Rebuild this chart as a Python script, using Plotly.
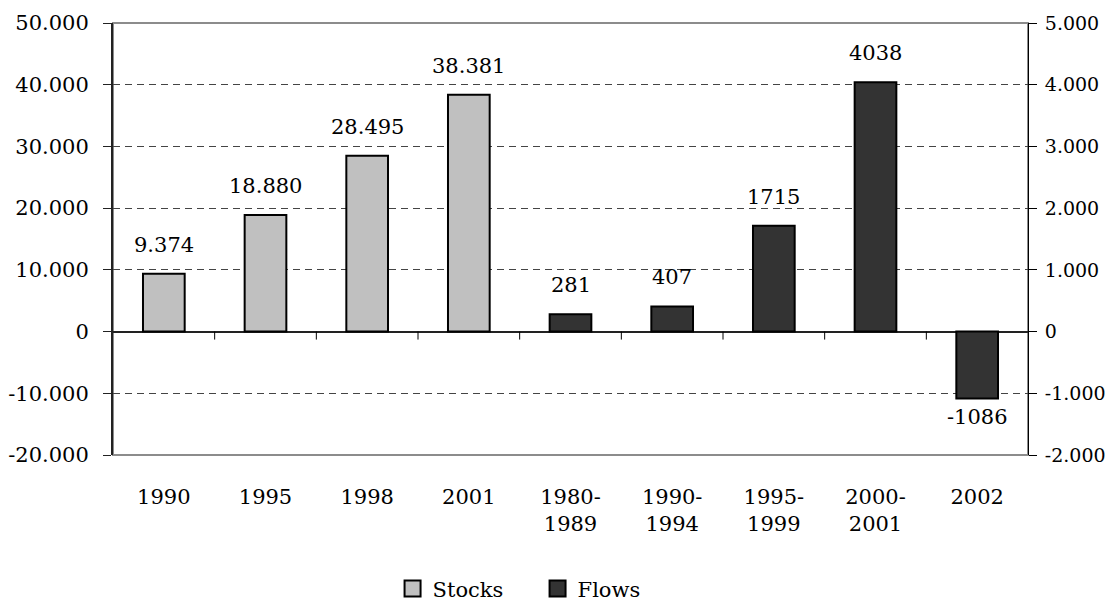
import plotly.graph_objects as go

categories = ["1990", "1995", "1998", "2001", "1980-<br>1989", "1990-<br>1994",
              "1995-<br>1999", "2000-<br>2001", "2002"]
stock_cats = ["1990", "1995", "1998", "2001"]
stock_values = [9374, 18880, 28495, 38381]
flow_cats = ["1980-<br>1989", "1990-<br>1994", "1995-<br>1999", "2000-<br>2001", "2002"]
flow_values = [281, 407, 1715, 4038, -1086]

left_ticks = [-20000, -10000, 0, 10000, 20000, 30000, 40000, 50000]
right_ticks = [-2000, -1000, 0, 1000, 2000, 3000, 4000, 5000]


def dotfmt(v):
    return f"{v:,}".replace(",", ".")


FONT = "DejaVu Serif"
FS = 21
STOCK_COLOR = "#C0C0C0"
FLOW_COLOR = "#333333"

fig = go.Figure()
fig.add_trace(go.Bar(
    x=stock_cats, y=stock_values, name="Stocks", yaxis="y", showlegend=False,
    marker=dict(color=STOCK_COLOR, line=dict(color="black", width=2)),
    width=0.41, hoverinfo="skip",
))
fig.add_trace(go.Bar(
    x=flow_cats, y=flow_values, name="Flows", yaxis="y2", showlegend=False,
    marker=dict(color=FLOW_COLOR, line=dict(color="black", width=2)),
    width=0.41, hoverinfo="skip",
))
# legend entries (square swatches like the reference)
for nm, col in [("Stocks", STOCK_COLOR), ("Flows", FLOW_COLOR)]:
    fig.add_trace(go.Scatter(
        x=[None], y=[None], mode="markers", name=nm, showlegend=True,
        marker=dict(symbol="square", size=16, color=col, line=dict(color="black", width=2)),
        hoverinfo="skip",
    ))

annotations = []
for c, v in zip(stock_cats, stock_values):
    annotations.append(dict(x=categories.index(c), y=v, xref="x", yref="y", text=dotfmt(v),
                            showarrow=False, yanchor="middle",
                            yshift=29 if v >= 0 else -18,
                            font=dict(family=FONT, size=FS, color="black")))
for c, v in zip(flow_cats, flow_values):
    annotations.append(dict(x=categories.index(c), y=v, xref="x", yref="y2", text=str(v),
                            showarrow=False, yanchor="middle",
                            yshift=29 if v >= 0 else -18,
                            font=dict(family=FONT, size=FS, color="black")))

shapes = [
    dict(type="rect", xref="paper", yref="paper", x0=0, x1=1, y0=0, y1=1,
         line=dict(color="#8c8c8c", width=2), layer="below"),
]
for k in range(1, len(categories)):
    shapes.append(dict(type="line", xref="x", yref="y", x0=k - 0.5, x1=k - 0.5,
                       ysizemode="pixel", yanchor=0, y0=0, y1=-8,
                       line=dict(color="black", width=1)))

fig.update_layout(
    width=1111, height=598, autosize=False,
    margin=dict(l=105, r=91, t=15, b=151, autoexpand=False),
    paper_bgcolor="white", plot_bgcolor="white",
    font=dict(family=FONT, size=FS, color="black"),
    barmode="overlay",
    showlegend=True,
    legend=dict(orientation="h", x=0.464, xanchor="center", y=-0.31, yanchor="middle",
                font=dict(family=FONT, size=FS, color="black"),
                itemwidth=30, entrywidth=100, entrywidthmode="pixels",
                itemsizing="trace", traceorder="normal"),
    xaxis=dict(type="category", categoryorder="array", categoryarray=categories,
               range=[-0.5, len(categories) - 0.5], automargin=False,
               showline=False, showgrid=False, ticks="", zeroline=False,
               ticklabelstandoff=27, tickfont=dict(family=FONT, size=FS)),
    yaxis=dict(range=[-20000, 50000], tickvals=left_ticks,
               ticktext=[dotfmt(v) for v in left_ticks], automargin=False,
               showline=True, linecolor="#222222", linewidth=2,
               ticks="outside", ticklen=8, tickcolor="#222222", tickwidth=1,
               showgrid=True, gridcolor="#444444", griddash="7px,5px", gridwidth=1,
               zeroline=True, zerolinecolor="#222222", zerolinewidth=1.5,
               ticklabelstandoff=10, tickfont=dict(family=FONT, size=FS)),
    yaxis2=dict(range=[-2000, 5000], tickvals=right_ticks,
                ticktext=[dotfmt(v) for v in right_ticks], automargin=False,
                overlaying="y", side="right", anchor="x",
                showline=True, linecolor="black", linewidth=1,
                ticks="outside", ticklen=8, tickcolor="black", tickwidth=1,
                showgrid=False, zeroline=False,
                ticklabelstandoff=4, tickfont=dict(family=FONT, size=19)),
    annotations=annotations,
    shapes=shapes,
)

fig.write_html("out.html")
